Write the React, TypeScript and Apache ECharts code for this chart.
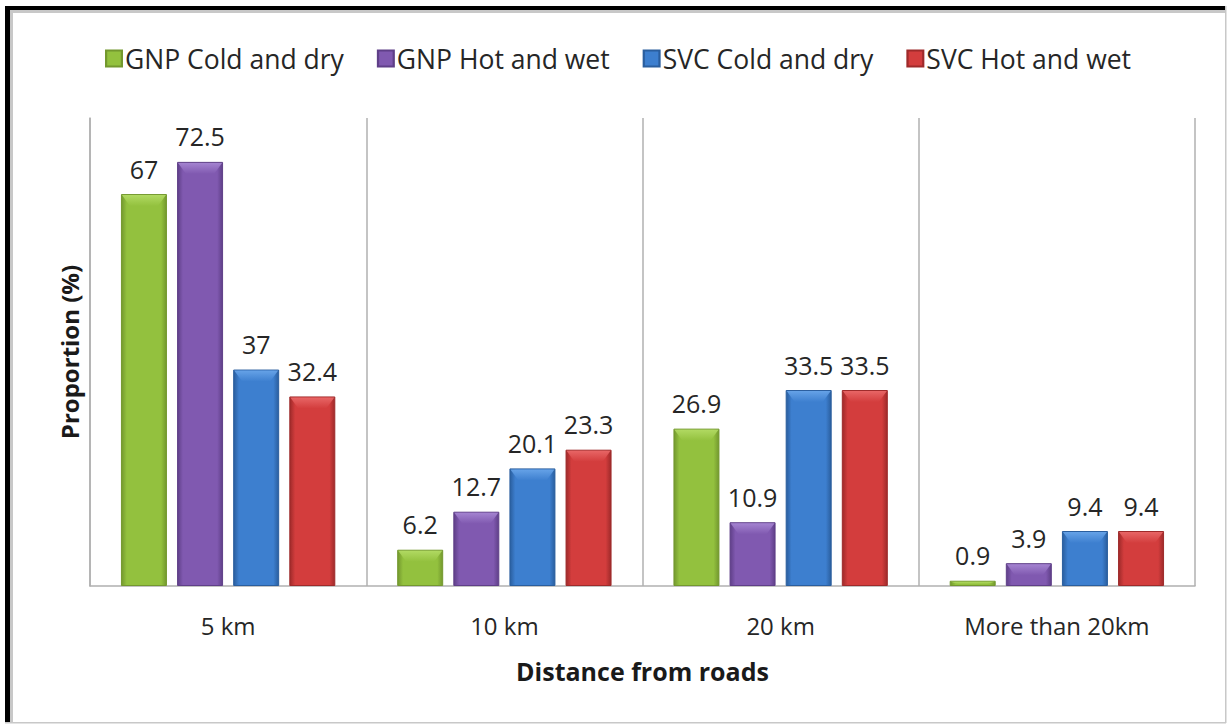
import React, { useEffect, useRef } from "react";
import * as echarts from "echarts";

const categories = ["5 km", "10 km", "20 km", "More than 20km"];
const seriesNames = ["GNP Cold and dry", "GNP Hot and wet", "SVC Cold and dry", "SVC Hot and wet"];
const gnpColdDry = [67, 6.2, 26.9, 0.9];
const gnpHotWet = [72.5, 12.7, 10.9, 3.9];
const svcColdDry = [37, 20.1, 33.5, 9.4];
const svcHotWet = [32.4, 23.3, 33.5, 9.4];

const palette = [
  { base: "#93c13e", dark: "#73982e", light: "#b4dc66" },
  { base: "#8059b0", dark: "#5f3f88", light: "#a888d4" },
  { base: "#3d7fcf", dark: "#2a5e9e", light: "#6aa6ea" },
  { base: "#d33d3d", dark: "#9e2a2a", light: "#ea6a6a" },
];

const FONT = "'Open Sans', 'Noto Sans', sans-serif";
const BAR_W = 46;
const BAR_GAP = 0.22;

export default function App() {
  const ref = useRef<HTMLDivElement>(null);
  useEffect(() => {
    if (!ref.current) return;
    const chart = echarts.init(ref.current, undefined, { renderer: "svg" });
    const data = [gnpColdDry, gnpHotWet, svcColdDry, svcHotWet];
    const bevelData: number[][] = [];
    data.forEach((vals, s) => vals.forEach((v, c) => bevelData.push([c, s, v])));
    const n = data.length;
    const step = BAR_W * (1 + BAR_GAP);
    const groupW = n * BAR_W + (n - 1) * BAR_W * BAR_GAP;

    chart.setOption({
      animation: false,
      backgroundColor: "#ffffff",
      textStyle: { fontFamily: FONT },
      legend: {
        top: 40,
        left: 100,
        itemWidth: 16,
        itemHeight: 16,
        itemGap: 33,
        icon: "rect",
        textStyle: { fontSize: 26.5, color: "#262626", fontFamily: FONT, padding: [0, 0, 0, -2] },
        data: seriesNames,
      },
      grid: { left: 90, right: 32, top: 118, bottom: 139 },
      xAxis: {
        type: "category",
        data: categories,
        axisLine: { show: true, lineStyle: { color: "#b0b0b0", width: 1.5 } },
        axisTick: { show: false },
        splitLine: { show: true, lineStyle: { color: "#b0b0b0", width: 1.5 } },
        axisLabel: { fontSize: 24, color: "#262626", margin: 27, fontFamily: FONT },
        name: "Distance from roads",
        nameLocation: "middle",
        nameGap: 72,
        nameTextStyle: { fontSize: 25, fontWeight: "bold", color: "#1a1a1a", fontFamily: FONT },
      },
      yAxis: {
        type: "value",
        min: 0,
        max: 80,
        axisLine: { show: true, lineStyle: { color: "#b0b0b0", width: 1.5 } },
        axisTick: { show: false },
        axisLabel: { show: false },
        splitLine: { show: false },
        name: "Proportion (%)",
        nameLocation: "middle",
        nameGap: 9,
        nameTextStyle: { fontSize: 24, fontWeight: "bold", color: "#1a1a1a", fontFamily: FONT },
      },
      series: [
        ...data.map((vals, i) => ({
          name: seriesNames[i],
          type: "bar",
          data: vals,
          barWidth: BAR_W,
          barGap: BAR_GAP * 100 + "%",
          itemStyle: {
            color: new echarts.graphic.LinearGradient(0, 0, 1, 0, [
              { offset: 0, color: palette[i].dark },
              { offset: 0.12, color: palette[i].base },
              { offset: 0.5, color: palette[i].base },
              { offset: 0.88, color: palette[i].base },
              { offset: 1, color: palette[i].dark },
            ]),
            borderColor: palette[i].dark,
            borderWidth: 1,
          },
          label: {
            show: true,
            position: "top",
            distance: 13,
            fontSize: 25,
            color: "#262626",
            fontFamily: FONT,
          },
        })),
        {
          type: "custom",
          name: "bevel",
          silent: true,
          z: 3,
          data: bevelData,
          encode: { x: 0, y: 2 },
          renderItem: (params: any, api: any) => {
            const c = api.value(0);
            const s = api.value(1);
            const v = api.value(2);
            const top = api.coord([c, v]);
            const base = api.coord([c, 0]);
            const cx = top[0] - groupW / 2 + BAR_W / 2 + s * step;
            const x0 = cx - BAR_W / 2 + 1;
            const x1 = cx + BAR_W / 2 - 1;
            const y0 = top[1] + 1;
            const h = Math.min(11, (base[1] - top[1]) / 2);
            const inset = 8;
            return {
              type: "polygon",
              shape: {
                points: [
                  [x0, y0],
                  [x1, y0],
                  [x1 - inset, y0 + h],
                  [x0 + inset, y0 + h],
                ],
              },
              style: {
                fill: new echarts.graphic.LinearGradient(0, 0, 0, 1, [
                  { offset: 0, color: palette[s].light },
                  { offset: 1, color: palette[s].base },
                ]),
                opacity: 0.9,
              },
            };
          },
        },
      ],
      color: palette.map((p) => p.base),
      graphic: [
        { type: "rect", shape: { x: 5, y: 10, width: 1221, height: 3 }, style: { fill: "#c8c8c8" }, silent: true },
        { type: "rect", shape: { x: 10, y: 6, width: 3, height: 717 }, style: { fill: "#c8c8c8" }, silent: true },
        { type: "rect", shape: { x: 5, y: 6, width: 1221, height: 4 }, style: { fill: "#000000" }, silent: true },
        { type: "rect", shape: { x: 5, y: 6, width: 5, height: 717 }, style: { fill: "#000000" }, silent: true },
        { type: "rect", shape: { x: 1225, y: 6, width: 1.5, height: 717 }, style: { fill: "#c8c8c8" }, silent: true },
        { type: "rect", shape: { x: 5, y: 722, width: 1221, height: 1.5 }, style: { fill: "#c8c8c8" }, silent: true },
      ],
    });
    return () => chart.dispose();
  }, []);
  return (
    <div
      ref={ref}
      style={{ position: "absolute", left: 0, top: 0, width: 1227, height: 725 }}
    />
  );
}
